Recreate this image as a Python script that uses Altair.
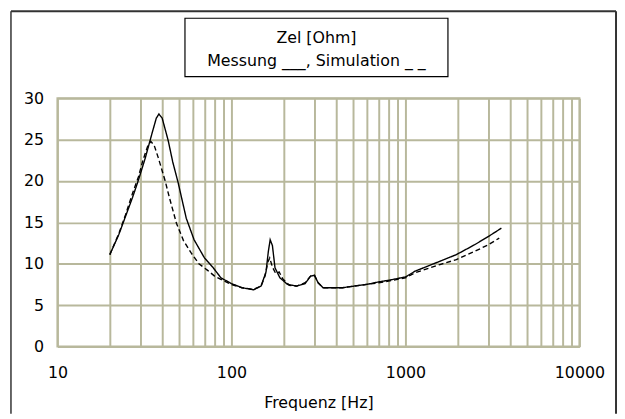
import altair as alt
import pandas as pd

# Messung (solid)
mess_f = [20, 22.5, 24.6, 27, 29.2, 32, 35, 37, 38.3, 40, 43.3, 46, 49.4, 55, 61, 70, 78, 87,
          100, 115, 134, 148, 158, 163, 167, 172, 178, 190, 210, 237, 265, 285, 300, 315, 336,
          435, 507, 600, 700, 800, 1000, 1136, 1578, 1961, 2500, 3000, 3560]
mess_z = [11.1, 13.5, 15.7, 18.0, 20.1, 22.8, 25.8, 27.6, 28.1, 27.6, 24.9, 22.3, 19.8, 15.5, 12.9, 10.7, 9.6, 8.3,
          7.6, 7.1, 6.85, 7.3, 9.0, 11.5, 12.9, 12.2, 9.5, 8.3, 7.5, 7.3, 7.6, 8.5, 8.6, 7.7, 7.1,
          7.1, 7.3, 7.5, 7.8, 8.0, 8.4, 9.1, 10.3, 11.1, 12.3, 13.3, 14.3]

# Simulation (dashed)
sim_f = [20, 22.5, 24.6, 27, 29.2, 31, 33, 34.4, 36, 38, 41.5, 44, 48.3, 53, 58.7, 65, 73, 80, 87,
         100, 115, 134, 148, 156, 162, 166, 172, 180, 188, 197, 215, 237, 265, 285, 300, 315, 336,
         435, 507, 600, 700, 800, 1000, 1136, 1578, 1961, 2500, 3000, 3460]
sim_z = [11.1, 13.6, 15.9, 18.5, 20.5, 22.5, 24.2, 24.8, 24.3, 22.8, 20.1, 18.0, 14.9, 12.8, 11.3, 10.0, 9.2, 8.5, 8.1,
         7.5, 7.1, 6.9, 7.3, 8.5, 10.2, 10.7, 9.6, 8.8, 9.0, 8.2, 7.4, 7.3, 7.7, 8.5, 8.6, 7.7, 7.1,
         7.1, 7.3, 7.5, 7.7, 7.9, 8.3, 8.9, 9.9, 10.5, 11.5, 12.3, 13.1]

x_grid = [10, 20, 30, 40, 50, 60, 70, 80, 90,
          100, 200, 300, 400, 500, 600, 700, 800, 900,
          1000, 2000, 3000, 4000, 5000, 6000, 7000, 8000, 9000, 10000]
y_ticks = [0, 5, 10, 15, 20, 25, 30]
title_lines = ["Zel [Ohm]", "Messung ___, Simulation _ _"]
x_title = "Frequenz [Hz]"

GRID = "#b8b89c"
FONT = "DejaVu Sans"
W, H = 528, 251
PB = 68

df = pd.concat([
    pd.DataFrame({"f": mess_f, "z": mess_z, "s": "Messung"}),
    pd.DataFrame({"f": sim_f, "z": sim_z, "s": "Simulation"}),
])

lines = alt.Chart(df).mark_line(color="black", strokeWidth=1.4).encode(
    x=alt.X("f:Q", scale=alt.Scale(type="log", domain=[10, 10000]),
            axis=alt.Axis(values=x_grid, format="d", title=x_title,
                          labelExpr="indexof(['10','100','1000','10000'], datum.label) >= 0 ? datum.label : ''",
                          labelFlush=False, labelOverlap=False, labelPadding=18,
                          titlePadding=15)),
    y=alt.Y("z:Q", scale=alt.Scale(domain=[0, 30]),
            axis=alt.Axis(values=y_ticks, title=None, labelPadding=14)),
    strokeDash=alt.StrokeDash("s:N", scale=alt.Scale(domain=["Messung", "Simulation"],
                                                     range=[[1, 0], [5, 3]]), legend=None),
    detail="s:N",
)

one = pd.DataFrame({"a": [0]})

frame_top = alt.Chart(one).mark_rule(color="#333333", strokeWidth=2).encode(
    x=alt.value(-47), x2=alt.value(W + 37), y=alt.value(-88))
frame_left = alt.Chart(one).mark_rule(color="#333333", strokeWidth=1.5).encode(
    x=alt.value(-47), y=alt.value(-88), y2=alt.value(H + PB))
frame_right = alt.Chart(one).mark_rule(color="#333333", strokeWidth=2).encode(
    x=alt.value(W + 37), y=alt.value(-88), y2=alt.value(H + PB))

box = alt.Chart(one).mark_rect(fill="white", stroke="black", strokeWidth=1.2).encode(
    x=alt.value(129), x2=alt.value(395), y=alt.value(-81), y2=alt.value(-22))

t1 = alt.Chart(pd.DataFrame({"t": [title_lines[0]]})).mark_text(
    font=FONT, fontSize=16, align="center", baseline="middle", color="black").encode(
    text="t:N", x=alt.value(262), y=alt.value(-61))
t2 = alt.Chart(pd.DataFrame({"t": [title_lines[1]]})).mark_text(
    font=FONT, fontSize=16, align="center", baseline="middle", color="black").encode(
    text="t:N", x=alt.value(262), y=alt.value(-38))

chart = alt.layer(lines, frame_top, frame_left, frame_right, box, t1, t2).properties(
    width=W, height=H,
    autosize=alt.AutoSizeParams(type="none"),
    padding={"left": 50, "top": 89, "right": 38, "bottom": PB},
    background="white",
).configure_view(stroke=GRID, strokeWidth=2).configure_axis(
    grid=True, gridColor=GRID, gridWidth=2, gridOpacity=1,
    ticks=False, domain=False,
    labelFont=FONT, labelFontSize=16, labelColor="black",
    titleFont=FONT, titleFontSize=16, titleFontWeight="normal", titleColor="black",
)

chart.save("out.html", embed_options={"renderer": "svg", "actions": False})
